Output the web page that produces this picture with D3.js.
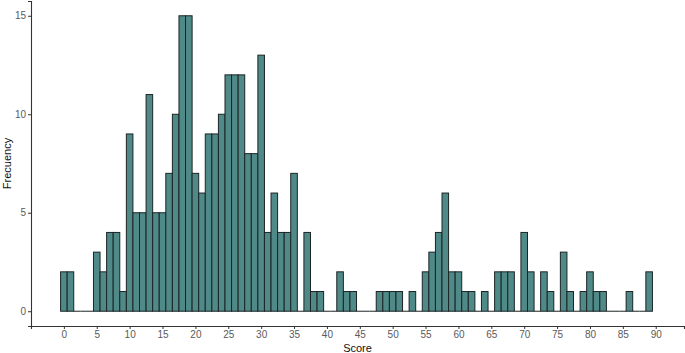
<!DOCTYPE html>
<html>
<head>
<meta charset="utf-8">
<script src="https://cdn.jsdelivr.net/npm/d3@7"></script>
<style>
  body { margin: 0; background: #fff; }
  text { font-family: "Liberation Sans", Arial, sans-serif; }
</style>
</head>
<body>
<div id="chart"></div>
<script>
// histogram counts, one bin per integer score 0..89
var scores = d3.range(0, 90);
var counts = [
  2, 2, 0, 0, 0, 3, 2, 4, 4, 1,
  9, 5, 5, 11, 5, 5, 7, 10, 15, 15,
  7, 6, 9, 9, 10, 12, 12, 12, 8, 8,
  13, 4, 6, 4, 4, 7, 0, 4, 1, 1,
  0, 0, 2, 1, 1, 0, 0, 0, 1, 1,
  1, 1, 0, 1, 0, 2, 3, 4, 6, 2,
  2, 1, 1, 0, 1, 0, 2, 2, 2, 0,
  4, 2, 0, 2, 1, 0, 3, 1, 0, 1,
  2, 1, 1, 0, 0, 0, 1, 0, 0, 2
];
var xTicks = d3.range(0, 91, 5);
var yTicks = [0, 5, 10, 15];

var width = 685, height = 353;
var padLeft = 31, padRight = 684, padTop = 1, padBottom = 326;

var bins = scores.map(function(s, i) { return {score: s, n: counts[i]}; });

var x = d3.scaleLinear().domain([-5, 94.3]).range([padLeft, padRight]);
var y = d3.scaleLinear().domain([-0.75, 15.75]).range([padBottom, padTop]);

var svg = d3.select("#chart").append("svg")
    .attr("width", width)
    .attr("height", height);

// empty bins still get their outline along the baseline
svg.append("g")
  .selectAll("line")
  .data(bins.filter(function(d) { return d.n === 0; }))
  .enter()
  .append("line")
    .attr("x1", function(d) { return x(d.score - 0.5); })
    .attr("x2", function(d) { return x(d.score + 0.5); })
    .attr("y1", y(0))
    .attr("y2", y(0))
    .attr("stroke", "#1c2424")
    .attr("stroke-width", 1);

svg.append("g")
  .selectAll("rect")
  .data(bins.filter(function(d) { return d.n > 0; }))
  .enter()
  .append("rect")
    .attr("x", function(d) { return x(d.score - 0.5); })
    .attr("width", function(d) { return x(d.score + 0.5) - x(d.score - 0.5); })
    .attr("y", function(d) { return y(d.n); })
    .attr("height", function(d) { return y(0) - y(d.n); })
    .attr("fill", "#4f8a89")
    .attr("stroke", "#1c2424")
    .attr("stroke-width", 1);

var xAxis = svg.append("g")
    .attr("transform", "translate(0," + padBottom + ")")
    .call(d3.axisBottom(x).tickValues(xTicks).tickSize(3).tickPadding(2));

var yAxis = svg.append("g")
    .attr("transform", "translate(" + padLeft + ",0)")
    .call(d3.axisLeft(y).tickValues(yTicks).tickSize(3).tickPadding(2));

[xAxis, yAxis].forEach(function(a) {
  a.select(".domain").attr("stroke", "#333").attr("stroke-width", 1.1);
  a.selectAll(".tick line").attr("stroke", "#333");
  a.selectAll(".tick text").attr("fill", "#5a5a5a").style("font-size", "10px");
});

svg.append("text")
    .attr("x", (padLeft + padRight) / 2)
    .attr("y", 352)
    .attr("text-anchor", "middle")
    .style("font-size", "11px")
    .attr("fill", "#111")
    .text("Score");

svg.append("text")
    .attr("transform", "translate(11," + (padTop + padBottom) / 2 + ") rotate(-90)")
    .attr("text-anchor", "middle")
    .style("font-size", "11px")
    .attr("fill", "#111")
    .text("Frecuency");
</script>
</body>
</html>
